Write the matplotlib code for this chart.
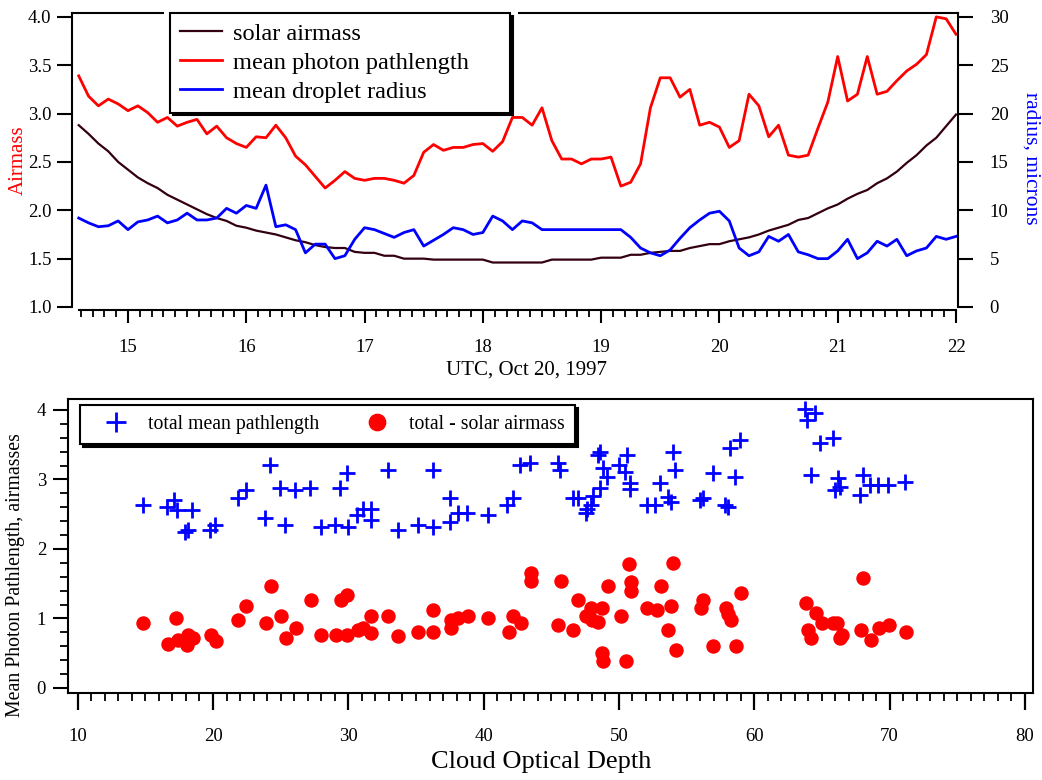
import numpy as np
import matplotlib
matplotlib.use('Agg')
import matplotlib.pyplot as plt
from matplotlib.ticker import MultipleLocator, FormatStrFormatter
from matplotlib.patches import Rectangle

# ******************************************************************************
# Data
# ******************************************************************************
# 5 minute samples, UTC hours on Oct 20, 1997
utc_start = 14.5833
utc_step = 1.0 / 12.0

solar_airmass = [2.88, 2.79, 2.69, 2.61, 2.50, 2.42, 2.34, 2.28, 2.23, 2.16,
                 2.11, 2.06, 2.01, 1.96, 1.92, 1.89, 1.84, 1.82, 1.79, 1.77,
                 1.75, 1.72, 1.69, 1.67, 1.64, 1.62, 1.61, 1.61, 1.57, 1.56,
                 1.56, 1.53, 1.53, 1.50, 1.50, 1.50, 1.49, 1.49, 1.49, 1.49,
                 1.49, 1.49, 1.46, 1.46, 1.46, 1.46, 1.46, 1.46, 1.49, 1.49,
                 1.49, 1.49, 1.49, 1.51, 1.51, 1.51, 1.54, 1.54, 1.56, 1.57,
                 1.58, 1.58, 1.61, 1.63, 1.65, 1.65, 1.68, 1.70, 1.72, 1.75,
                 1.79, 1.82, 1.85, 1.90, 1.92, 1.97, 2.02, 2.06, 2.12, 2.17,
                 2.21, 2.28, 2.33, 2.40, 2.49, 2.57, 2.67, 2.75, 2.87, 2.99]

photon_path = [3.39, 3.18, 3.08, 3.15, 3.10, 3.03, 3.08, 3.01, 2.91, 2.96,
               2.87, 2.91, 2.94, 2.79, 2.87, 2.75, 2.69, 2.65, 2.76, 2.75,
               2.88, 2.75, 2.56, 2.47, 2.35, 2.23, 2.31, 2.40, 2.33, 2.31,
               2.33, 2.33, 2.31, 2.28, 2.36, 2.60, 2.68, 2.62, 2.65, 2.65,
               2.68, 2.69, 2.61, 2.71, 2.96, 2.96, 2.88, 3.06, 2.72, 2.53,
               2.53, 2.48, 2.53, 2.53, 2.55, 2.25, 2.29, 2.48, 3.06, 3.37,
               3.37, 3.17, 3.25, 2.88, 2.91, 2.86, 2.65, 2.72, 3.20, 3.08,
               2.76, 2.88, 2.57, 2.55, 2.57, 2.85, 3.12, 3.59, 3.13, 3.20,
               3.59, 3.20, 3.23, 3.34, 3.44, 3.51, 3.61, 4.00, 3.98, 3.82]

droplet_radius = [9.2, 8.7, 8.3, 8.4, 8.9, 8.0, 8.8, 9.0, 9.4, 8.7,
                  9.0, 9.7, 9.0, 9.0, 9.2, 10.2, 9.7, 10.5, 10.2, 12.6,
                  8.3, 8.5, 8.0, 5.6, 6.5, 6.5, 5.0, 5.3, 7.0, 8.2,
                  8.0, 7.6, 7.2, 7.7, 8.0, 6.3, 6.9, 7.5, 8.2, 8.0,
                  7.5, 7.7, 9.4, 8.9, 8.0, 8.9, 8.7, 8.0, 8.0, 8.0,
                  8.0, 8.0, 8.0, 8.0, 8.0, 8.0, 7.2, 6.1, 5.6, 5.3,
                  5.9, 7.1, 8.2, 9.0, 9.7, 9.9, 8.9, 6.1, 5.3, 5.7,
                  7.3, 6.8, 7.5, 5.7, 5.4, 5.0, 5.0, 5.8, 7.0, 5.0,
                  5.6, 6.8, 6.3, 7.0, 5.3, 5.8, 6.1, 7.3, 7.0, 7.3]

# Cloud optical depth vs total mean pathlength
tau_total = [14.8, 16.58, 17.14, 17.32, 17.93, 18.17, 18.43, 19.78, 20.15,
             21.83, 22.42, 23.84, 24.21, 24.95, 25.32, 26.06, 27.17, 27.96,
             29.0, 29.39, 29.88, 30.0, 30.62, 31.06, 31.65, 31.65, 32.91,
             33.7, 35.17, 36.24, 36.24, 37.52, 37.52, 38.13, 38.75, 40.3,
             41.71, 42.15, 42.69, 43.43, 45.52, 45.65, 46.63, 47.0, 47.57,
             47.62, 47.92, 48.06, 48.48, 48.6, 48.6, 48.85, 49.1, 50.03,
             50.45, 50.62, 50.82, 50.82, 52.05, 52.67, 53.04, 53.65, 53.83,
             53.98, 54.15, 56.0, 56.2, 56.93, 57.84, 58.04, 58.2, 58.58,
             58.95, 63.75, 63.92, 64.18, 64.49, 64.86, 65.8, 65.97, 66.21,
             66.34, 67.82, 68.02, 68.56, 69.17, 69.91, 71.15]
path_total = [2.63, 2.60, 2.71, 2.56, 2.25, 2.27, 2.56, 2.27, 2.35,
              2.74, 2.85, 2.45, 3.21, 2.88, 2.35, 2.85, 2.88, 2.32,
              2.35, 2.88, 3.10, 2.32, 2.49, 2.57, 2.57, 2.42, 3.14,
              2.27, 2.35, 2.32, 3.14, 2.74, 2.39, 2.52, 2.52, 2.49,
              2.63, 2.74, 3.21, 3.24, 3.24, 3.14, 2.73, 2.73, 2.52,
              2.57, 2.63, 2.76, 3.35, 3.39, 2.88, 3.16, 3.03, 3.21,
              3.11, 3.35, 2.95, 2.87, 2.63, 2.63, 2.95, 2.75, 2.68,
              3.40, 3.14, 2.71, 2.74, 3.10, 2.63, 2.61, 3.46, 3.03,
              3.57, 4.01, 3.86, 3.06, 3.96, 3.53, 3.60, 2.85, 3.02,
              2.89, 2.78, 3.06, 2.92, 2.92, 2.92, 2.97]

# Cloud optical depth vs total minus solar airmass
tau_excess = [14.85, 16.7, 17.24, 17.44, 18.06, 18.17, 18.54, 19.83, 20.22,
              21.87, 22.44, 23.9, 24.26, 25.03, 25.37, 26.11, 27.22, 27.98,
              29.07, 29.44, 29.88, 29.88, 30.74, 31.11, 31.65, 31.65, 32.96,
              33.7, 35.17, 36.28, 36.28, 37.57, 37.57, 38.13, 38.87, 40.35,
              41.88, 42.2, 42.77, 43.48, 43.48, 45.52, 45.7, 46.63, 47.0,
              47.55, 47.92, 48.04, 48.48, 48.73, 48.73, 48.85, 49.21, 50.16,
              50.52, 50.72, 50.89, 50.89, 52.1, 52.79, 53.09, 53.65, 53.85,
              54.02, 54.22, 56.05, 56.2, 56.98, 57.92, 58.09, 58.26, 58.65,
              59.0, 63.8, 64.0, 64.2, 64.54, 64.99, 65.8, 66.15, 66.3,
              66.51, 67.9, 68.07, 68.63, 69.23, 69.96, 71.22]
path_excess = [0.94, 0.64, 1.00, 0.69, 0.62, 0.76, 0.72, 0.76, 0.68,
               0.98, 1.18, 0.94, 1.47, 1.04, 0.72, 0.87, 1.26, 0.76,
               0.76, 1.26, 1.34, 0.76, 0.83, 0.87, 0.79, 1.04, 1.04,
               0.75, 0.80, 0.80, 1.12, 0.87, 0.98, 1.00, 1.04, 1.00,
               0.80, 1.04, 0.94, 1.66, 1.54, 0.91, 1.54, 0.83, 1.26,
               1.04, 1.15, 0.98, 0.95, 1.15, 0.50, 0.39, 1.47, 1.04,
               0.39, 1.79, 1.52, 1.40, 1.15, 1.12, 1.47, 0.83, 1.18,
               1.80, 0.55, 1.15, 1.26, 0.61, 1.15, 1.07, 0.98, 0.61,
               1.36, 1.22, 0.83, 0.72, 1.08, 0.94, 0.94, 0.94, 0.72,
               0.76, 0.83, 1.58, 0.69, 0.87, 0.90, 0.80]

utc = utc_start + utc_step * np.arange(len(solar_airmass))

# ******************************************************************************
# Figure setup
# ******************************************************************************
plt.rcParams['font.family'] = 'Liberation Serif'
plt.rcParams['axes.linewidth'] = 1.5
W, H = 1042, 780
fig = plt.figure(figsize=(W / 100, H / 100), dpi=100)


def fbox(x0, y0, x1, y1):
    # pixel box (top-left origin) -> figure fraction rect
    return [x0 / W, 1 - y1 / H, (x1 - x0) / W, (y1 - y0) / H]


shadow = {'facecolor': 'black', 'edgecolor': 'black', 'alpha': 1,
          'ox': 2, 'oy': -2}

# ******************************************************************************
# Top panel: time series
# ******************************************************************************
ax = fig.add_axes(fbox(72, 13, 958, 307))
ax2 = ax.twinx()

l1, = ax.plot(utc, solar_airmass, color='#330011', lw=1.6)
l2, = ax.plot(utc, photon_path, color='#FF0000', lw=2)
l3, = ax2.plot(utc, droplet_radius, color='#0000FF', lw=2)

ax.set_xlim(14.5266, 22.0169)
ax.set_ylim(1.0, 4.04)
ax2.set_ylim(0, 30.4)

ax.spines['right'].set_visible(False)
ax.spines['bottom'].set_position(('outward', 2.2))
ax.spines['bottom'].set_bounds(utc[0], utc[-1])
for s in ['top', 'left', 'bottom']:
    ax2.spines[s].set_visible(False)

ax.xaxis.set_major_locator(MultipleLocator(1))
ax.xaxis.set_minor_locator(MultipleLocator(0.1))
ax.yaxis.set_major_locator(MultipleLocator(0.5))
ax.yaxis.set_major_formatter(FormatStrFormatter('%.1f'))
ax2.yaxis.set_major_locator(MultipleLocator(5))

ax.tick_params(axis='x', which='major', direction='out', length=9.5,
               width=1.5, pad=11, labelsize=13.5)
ax.tick_params(axis='x', which='minor', direction='out', length=5, width=1.3)
ax.tick_params(axis='y', direction='out', length=10.8, width=1.5, pad=4,
               labelsize=13.5)
ax2.tick_params(axis='y', direction='out', length=10.8, width=1.5, pad=12,
                labelsize=13.5)

leg1 = fig.legend([l1, l2, l3],
                  ['solar airmass', 'mean photon pathlength',
                   'mean droplet radius'],
                  loc='upper left',
                  bbox_to_anchor=(170 / W, 1 - 110 / H, 340 / W, 97 / H),
                  mode='expand', fontsize=17.6, fancybox=False,
                  edgecolor='black', framealpha=1, borderpad=0.4,
                  labelspacing=0.28, handlelength=1.72, handletextpad=0.45,
                  borderaxespad=0, shadow=shadow)
leg1.get_frame().set_linewidth(1.5)

# white gap where the legend breaks the top axis line
fig.add_artist(Rectangle((164 / W, 1 - 17 / H), 354 / W, 8 / H,
                         transform=fig.transFigure, facecolor='white',
                         edgecolor='none', zorder=4))

fig.text(18 / W, 1 - 160 / H, 'Airmass', color='#FF0000', fontsize=15,
         rotation=90, ha='center', va='center')
fig.text(1031 / W, 1 - 158 / H, 'radius, microns', color='#0000FF',
         fontsize=15.5, rotation=270, ha='center', va='center')
fig.text(526 / W, 1 - 370 / H, 'UTC, Oct 20, 1997', fontsize=15,
         ha='center', va='center')

# ******************************************************************************
# Bottom panel: pathlength vs cloud optical depth
# ******************************************************************************
bx = fig.add_axes(fbox(68, 399, 1033, 693))

p1, = bx.plot(tau_total, path_total, '+', color='#0000FF', ms=11, mew=2.0)
p2, = bx.plot(tau_excess, path_excess, 'o', color='#FF0000', ms=9.4,
              mec='#FF0000')

bx.set_xlim(9.283, 80.6)
bx.set_ylim(-0.072, 4.158)
bx.xaxis.set_major_locator(MultipleLocator(10))
bx.xaxis.set_minor_locator(MultipleLocator(1))
bx.yaxis.set_major_locator(MultipleLocator(1))
bx.yaxis.set_minor_locator(MultipleLocator(0.2))

bx.tick_params(axis='x', which='major', direction='out', length=12,
               width=1.6, pad=13, labelsize=13.5)
bx.tick_params(axis='x', which='minor', direction='out', length=6, width=1.3)
bx.tick_params(axis='y', which='major', direction='out', length=10.8,
               width=1.5, pad=5, labelsize=13.5)
bx.tick_params(axis='y', which='minor', direction='out', length=6, width=1.3)

leg2 = fig.legend([p1, p2], ['total mean pathlength', 'total - solar airmass'],
                  loc='upper left', bbox_to_anchor=(80 / W, 1 - 405 / H),
                  ncol=2, fontsize=14.2, fancybox=False, edgecolor='black',
                  framealpha=1, borderpad=0.5, handlelength=2.6,
                  handletextpad=0.34, columnspacing=1.63, markerscale=1.25,
                  borderaxespad=0, shadow=shadow)
leg2.get_frame().set_linewidth(1.5)

fig.text(16 / W, 1 - 575 / H, 'Mean Photon Pathlength, airmasses',
         fontsize=14.3, rotation=90, ha='center', va='center')
fig.text(541 / W, 1 - 762 / H, 'Cloud Optical Depth', fontsize=19,
         ha='center', va='center')

fig.savefig('out.png', dpi=100)
